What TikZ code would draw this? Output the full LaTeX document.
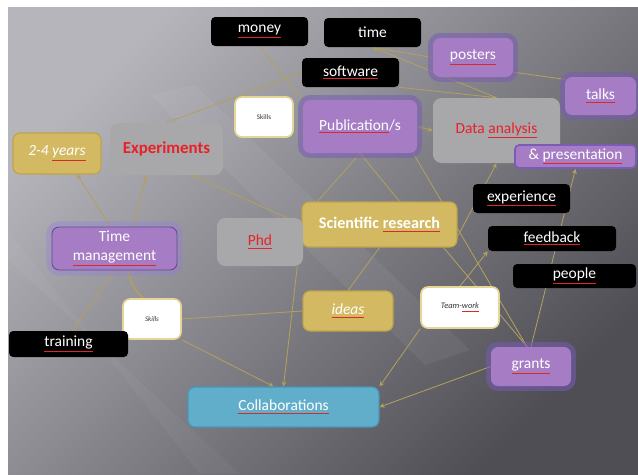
\documentclass[tikz,border=0pt]{standalone}
\usepackage{fontspec}
\setmainfont{Carlito}

\definecolor{slidelight}{RGB}{182,181,188}
\definecolor{slidedark}{RGB}{78,78,84}
\definecolor{purplefill}{RGB}{166,124,196}
\definecolor{purpleglow}{RGB}{120,92,182}
\definecolor{tmglow}{RGB}{150,124,220}
\definecolor{grayfill}{RGB}{168,168,170}
\definecolor{goldfill}{RGB}{211,186,98}
\definecolor{goldline}{RGB}{188,164,78}
\definecolor{whiteline}{RGB}{228,214,150}
\definecolor{bluefill}{RGB}{96,174,202}
\definecolor{blueline}{RGB}{72,150,182}
\definecolor{redtext}{RGB}{232,32,40}
\definecolor{linkcolor}{RGB}{178,160,94}
\definecolor{squig}{RGB}{220,40,40}

\newcommand{\spell}[1]{\begingroup\colorlet{spelltxt}{.}\color{squig}\underline{\textcolor{spelltxt}{#1}}\endgroup}

\tikzstyle{box} = [rectangle, rounded corners=3pt, inner sep=0pt,
    font=\fontsize{11}{14}\selectfont, text=white]
\tikzstyle{blackbox} = [box, fill=black]
\tikzstyle{purplebox} = [box, fill=purplefill, rounded corners=5pt,
    preaction={draw=purpleglow, line width=7pt, draw opacity=0.55}]
\tikzstyle{tmbox} = [box, fill=purplefill, rounded corners=5pt, draw=purpleglow!80!black, line width=0.6pt,
    preaction={draw=tmglow, line width=8pt, draw opacity=0.35}]
\tikzstyle{graybox} = [box, fill=grayfill, text=redtext, rounded corners=6pt]
\tikzstyle{goldbox} = [box, fill=goldfill, draw=goldline, line width=0.8pt, rounded corners=5pt]
\tikzstyle{whitebox} = [box, fill=white, draw=whiteline, line width=1.2pt, text=black!80,
    rounded corners=5pt, font=\fontsize{5}{6}\selectfont]
\tikzstyle{bluebox} = [box, fill=bluefill, draw=blueline, line width=0.8pt, rounded corners=5pt]
\tikzstyle{line} = [draw, color=linkcolor, line width=0.6pt]
\tikzstyle{arrow} = [line, -stealth]
\tikzset{wh/.style 2 args={minimum width=#1*0.025cm, minimum height=#2*0.025cm}}

\pgfdeclarelayer{back}
\pgfdeclarelayer{links}
\pgfsetlayers{back,links,main}

\begin{document}
\begin{tikzpicture}[x=0.025cm, y=-0.025cm]
	\useasboundingbox (0,0) rectangle (638,474);
	\begin{pgfonlayer}{back}
		\fill [white] (0,0) rectangle (638,474);
		\shade [top color=slidelight, bottom color=slidedark, shading angle=45] (8,7) rectangle (638,474);
		% light streaks
		\fill [white, opacity=0.05] (150,95) -- (195,85) -- (470,350) -- (425,365) -- cycle;
		\fill [white, opacity=0.035] (8,230) -- (8,260) -- (240,474) -- (200,474) -- cycle;
	\end{pgfonlayer}

	% Nodes
	\node [blackbox, wh={97}{29}] (money) at (259.5,31.5) {\spell{money}};
	\node [blackbox, wh={97}{29}] (time) at (372.5,32.5) {time};
	\node [purplebox, wh={80}{39}] (posters) at (473,57.5) {\spell{posters}};
	\node [blackbox, wh={97}{29}] (software) at (350.5,72.5) {\spell{software}};
	\node [purplebox, wh={71}{38}] (talks) at (600.5,96) {\spell{talks}};
	\node [whitebox, wh={58}{40}] (skillsA) at (264,117) {Skills};
	\node [purplebox, wh={114}{53}] (publication) at (360,126.5) {\spell{Publication}/s};
	\node [graybox, wh={127}{65}] (analysis) at (496.5,130.5) {Data \spell{analysis}};
	\node [box, fill=purplefill, draw=purpleglow, line width=1.2pt, wh={121}{23}] (presentation) at (575.5,156.5) {\& \spell{presentation}};
	\node [graybox, wh={113}{52}, font=\fontsize{12}{14}\selectfont\bfseries] (experiments) at (166.5,149) {Experiments};
	\node [goldbox, wh={88}{41}, font=\fontsize{11}{14}\selectfont\itshape] (years) at (57,153.5) {2-4 \spell{years}};
	\node [blackbox, wh={97}{29}] (experience) at (521.5,198.5) {\spell{experience}};
	\node [goldbox, wh={155}{45}, font=\fontsize{11.5}{14}\selectfont\bfseries] (research) at (379.5,224.5) {Scientific \spell{research}};
	\node [graybox, wh={86}{48}] (phd) at (260,242) {\spell{Phd}};
	\node [tmbox, wh={125}{43}, align=center] (timemgmt) at (114.5,248.5) {Time\\\spell{management}};
	\node [blackbox, wh={128}{25}] (feedback) at (552,238.5) {\spell{feedback}};
	\node [blackbox, wh={123}{24}] (people) at (574.5,276) {\spell{people}};
	\node [whitebox, wh={58}{40}, font=\fontsize{5}{6}\selectfont\itshape] (skillsB) at (152,319) {Skills};
	\node [goldbox, wh={90}{40}, font=\fontsize{11}{14}\selectfont\itshape] (ideas) at (348,311) {\spell{ideas}};
	\node [whitebox, wh={78}{41}, font=\fontsize{6}{7}\selectfont\itshape] (teamwork) at (460,307.5) {Team-\spell{work}};
	\node [blackbox, wh={119}{26}] (training) at (68.5,344) {\spell{training}};
	\node [purplebox, wh={80}{39}] (grants) at (531,366.5) {\spell{grants}};
	\node [bluebox, wh={191}{40}] (collab) at (283.5,407) {\spell{Collaborations}};

	% Arrows
	\begin{pgfonlayer}{links}
	\path [line] (money.south) -- (publication.north west);
	\path [line] (experiments.north) -- (software.west);
	\path [arrow] (posters.west) -- (time.south);
	\path [arrow] (analysis.north) -- (time.south);
	\path [line] (software.south east) -- (analysis.north);
	\path [line] (posters.-20) -- (talks.155);
	\path [line, stealth-stealth] (publication.east) -- (analysis.west);
	\path [arrow] ([xshift=0.5cm]research.north) -- (publication.south);
	\path [line] (phd.north east) -- (publication.south);
	\path [line] ([xshift=-0.1cm]publication.south east) -- ([xshift=-0.1cm]grants.north);
	\path [arrow] (research.west) -- ([xshift=0.66cm]experiments.south);
	\path [arrow] ([yshift=-0.3cm]research.east) -- (analysis.south);
	\path [line] ([xshift=-0.35cm]research.south east) -- ([xshift=-0.1cm]grants.north);
	\path [line] (ideas.north) -- (research.south);
	\path [line] (skillsB.east) -- (ideas.west);
	\path [arrow] (skillsB.south east) -- ([xshift=-0.25cm]collab.north);
	\path [arrow] ([xshift=-0.15cm]phd.south east) -- (collab.north);
	\path [arrow] ([xshift=-0.1cm]timemgmt.north) -- ([xshift=0.5cm]years.south);
	\path [arrow] ([xshift=0.45cm]timemgmt.north) -- ([xshift=-0.5cm]experiments.south);
	\path [line, line width=1.2pt] ([xshift=0.35cm]timemgmt.south) to [bend right=20] ([xshift=-0.22cm]skillsB.north);
	\path [line] (timemgmt.south) -- ([xshift=0.1cm]training.north);
	\path [arrow] (teamwork.north) -- (feedback.south west);
	\path [arrow] (teamwork.south west) -- (collab.north east);
	\path [arrow] (grants.west) -- (collab.east);
	\path [arrow] (grants.north) -- (presentation.south);
	\end{pgfonlayer}
\end{tikzpicture}
\end{document}
